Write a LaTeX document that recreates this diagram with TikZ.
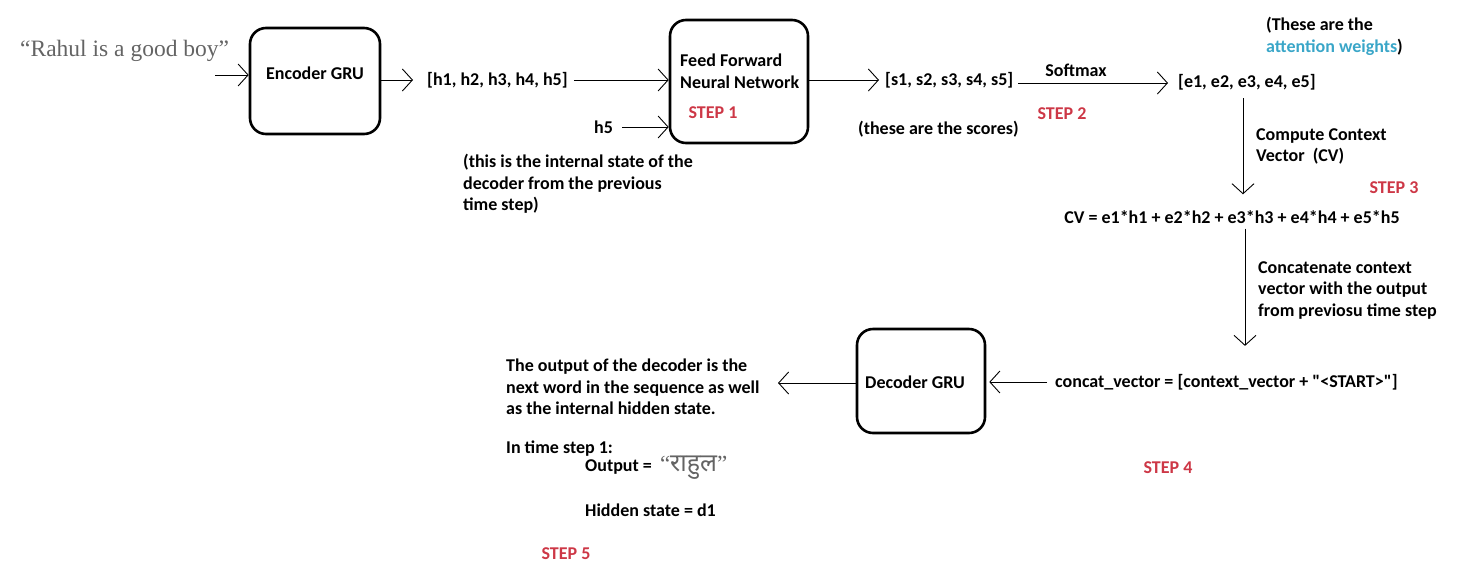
\documentclass[tikz,border=0pt]{standalone}
\usepackage{fontspec}
\setmainfont{Carlito}
\newfontfamily\serifgrey{Liberation Serif}
\newfontfamily\deva[Script=Devanagari]{Noto Sans}
\font\rawq="Carlito/B" at 18pt
\usetikzlibrary{arrows.meta}
\definecolor{stepred}{RGB}{205,55,70}
\definecolor{attblue}{RGB}{58,166,200}
\definecolor{quotegrey}{RGB}{100,100,100}
\tikzset{
  box/.style={draw, line width=2.6pt, rounded corners=16pt, minimum width=#1},
  lbl/.style={font=\fontsize{18}{21.5}\selectfont\bfseries, inner sep=0pt, align=left},
  steplbl/.style={lbl, text=stepred},
  arr/.style={line width=0.9pt, -{Straight Barb[length=10pt,width=22pt,line width=0.9pt]}},
}
\begin{document}
\begin{tikzpicture}[x=1pt,y=-1pt]
\useasboundingbox (0,0) rectangle (1473,574);
% boxes
\node[box=130pt, minimum height=106pt] (enc) at (315,81) {};
\node[lbl] at (315,73) {Encoder GRU};
\node[box=138pt, minimum height=123pt] (ffnn) at (739,81.5) {};
\node[lbl, anchor=north west] at (680,54) {Feed Forward\\Neural Network};
\node[steplbl] (s1) at (713,113) {STEP 1};
\node[box=128pt, minimum height=104pt] (dec) at (921,381) {};
\node[lbl] at (915,382) {Decoder GRU};
% input sentence
\node[font=\fontsize{23.5}{28}\selectfont\serifgrey, text=quotegrey, inner sep=0pt, anchor=west] (sent) at (20,51) {“Rahul is a good boy”};
\coordinate (inS) at (215,75);
\draw[arr] (inS) -- (enc.west |- inS);
% h vector
\node[lbl, anchor=west] (hvec) at (427,80) {[h1, h2, h3, h4, h5]};
\draw[arr] (enc.east |- hvec) -- ([xshift=-14pt]hvec.west);
\draw[arr] ([xshift=6pt]hvec.east) -- (ffnn.west |- hvec);
% h5
\node[lbl, anchor=west] (h5) at (594,127) {h5};
\draw[arr] ([xshift=9pt]h5.east) -- (ffnn.west |- h5);
\node[lbl, anchor=north west] (note) at (463,154) {(this is the internal state of the\\decoder from the previous\\time step)};
% scores
\node[lbl, anchor=west] (svec) at (885,80) {[s1, s2, s3, s4, s5]};
\draw[arr] (ffnn.east |- svec) -- ([xshift=-6pt]svec.west);
\node[lbl, anchor=west] (scores) at (858,129) {(these are the scores)};
% softmax
\node[lbl, anchor=west] (evec) at (1178,82) {[e1, e2, e3, e4, e5]};
\coordinate (smS) at (1018,83);
\draw[arr] (smS) -- ([xshift=-10pt]evec.west |- smS);
\node[lbl] (softmax) at (1076,70) {Softmax};
\node[steplbl] (s2) at (1062,114) {STEP 2};
\node[lbl, anchor=north west] (att) at (1266,17) {(These are the\\\textcolor{attblue}{attention weights})};
% CV
\node[lbl] (cv) at (1232,217) {CV = e1*h1 + e2*h2 + e3*h3 + e4*h4 + e5*h5};
\coordinate (eA) at ([yshift=-8pt]evec.south -| 1243,0);
\draw[arr] (eA) -- ([yshift=16pt]cv.north -| eA);
\node[lbl, anchor=north west] (ccv) at (1256,128) {Compute Context\\Vector\ \ (CV)};
\node[steplbl] (s3) at (1394,188) {STEP 3};
% concat
\node[lbl, anchor=west] (concat) at (1055,382) {concat\_vector = [context\_vector + {\rawq"}<START>{\rawq"}]};
\coordinate (cvA) at ([yshift=-5pt]cv.south -| 1245,0);
\draw[arr] (cvA) -- ([yshift=28pt]concat.north -| cvA);
\node[lbl, anchor=north west] (cct) at (1258,261) {Concatenate context\\vector with the output\\from previosu time step};
\draw[arr] ([xshift=-8pt]concat.west) -- ([xshift=3pt]dec.east |- concat);
\node[steplbl] (s4) at (1168,468) {STEP 4};
% output
\node[lbl, anchor=north west] (out) at (506,359) {The output of the decoder is the\\next word in the sequence as well\\as the internal hidden state.};
\coordinate (outA) at (778,383);
\draw[arr] (dec.west |- outA) -- (outA);
\node[lbl, anchor=west] (ts) at (506,449) {In time step 1:};
\node[lbl, anchor=west] (op) at (585,468) {Output =\ \ {\mdseries\fontsize{23}{26}\selectfont\color{quotegrey}\serifgrey “\deva\fontsize{25}{26}\selectfont राहुल\serifgrey\fontsize{23}{26}\selectfont”}};
\node[lbl, anchor=west] (hs) at (585,510) {Hidden state = d1};
\node[steplbl] (s5) at (566,554) {STEP 5};
\end{tikzpicture}
\end{document}
